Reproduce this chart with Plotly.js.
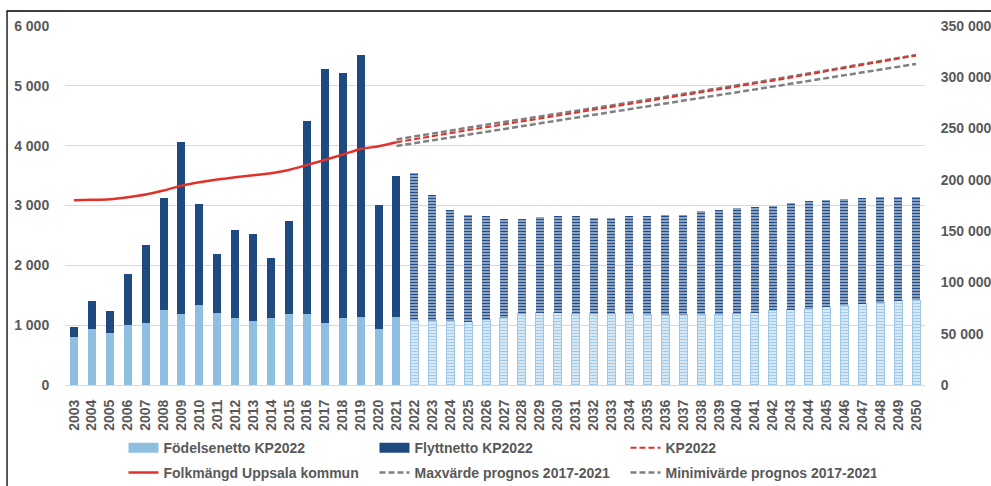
<!DOCTYPE html>
<html>
<head>
<meta charset="utf-8">
<script src="https://cdn.plot.ly/plotly-3.0.1.min.js"></script>
<style>html,body{margin:0;padding:0;background:#fff;}#chart{width:991px;height:486px;}</style>
</head>
<body>
<div id="chart"></div>
<script>
// ---- Data ----
const histYears = ["2003","2004","2005","2006","2007","2008","2009","2010","2011","2012","2013","2014","2015","2016","2017","2018","2019","2020","2021"];
const fcYears = ["2022","2023","2024","2025","2026","2027","2028","2029","2030","2031","2032","2033","2034","2035","2036","2037","2038","2039","2040","2041","2042","2043","2044","2045","2046","2047","2048","2049","2050"];
const lineFcYears = ["2021"].concat(fcYears);
const allYears = histYears.concat(fcYears);

// Födelsenetto (births surplus), historical
const birthsHist = [806, 944, 861, 1011, 1044, 1250, 1183, 1344, 1211, 1128, 1067, 1128, 1183, 1183, 1039, 1128, 1139, 944, 1139];
// Flyttnetto (net migration), historical
const migrationHist = [166, 456, 372, 839, 1289, 1878, 2884, 1678, 978, 1466, 1455, 1000, 1561, 3228, 4244, 4089, 4378, 2067, 2350];
// KP2022 forecast
const birthsFc = [1083, 1072, 1072, 1056, 1094, 1122, 1194, 1206, 1206, 1194, 1194, 1194, 1194, 1183, 1175, 1178, 1180, 1183, 1194, 1211, 1250, 1261, 1272, 1306, 1333, 1361, 1378, 1406, 1417];
const migrationFc = [2456, 2106, 1856, 1788, 1728, 1645, 1584, 1594, 1611, 1623, 1600, 1600, 1623, 1634, 1672, 1666, 1720, 1734, 1762, 1761, 1750, 1778, 1795, 1794, 1778, 1767, 1761, 1733, 1722];

// Population (right axis)
const popHist = [180000, 180500, 181200, 183100, 185700, 189600, 194400, 197700, 200300, 202500, 204500, 206400, 209700, 214500, 219400, 224600, 230100, 232700, 236600];
const popKP2022 = [236600, 239700, 242800, 245700, 248500, 251300, 254100, 256800, 259600, 262400, 265200, 268000, 270800, 273600, 276400, 279200, 282000, 284900, 287800, 290700, 293700, 296700, 299700, 302800, 305900, 309000, 312000, 315100, 318200, 321300];
const popMax = [239400, 242400, 245400, 248300, 251000, 253700, 256400, 259000, 261800, 264500, 267200, 269900, 272600, 275400, 278100, 280800, 283500, 286300, 289200, 292000, 294900, 297800, 300700, 303800, 306800, 309800, 312700, 315700, 318800, 321800];
const popMin = [233000, 235800, 238500, 241300, 244000, 246800, 249600, 252300, 255100, 257800, 260600, 263400, 266100, 268900, 271600, 274400, 277200, 279900, 282700, 285400, 288200, 291000, 293700, 296500, 299200, 302000, 304800, 307500, 310300, 313000];

const names = ["Födelsenetto KP2022", "Flyttnetto KP2022", "KP2022", "Folkmängd Uppsala kommun", "Maxvärde prognos 2017-2021", "Minimivärde prognos 2017-2021"];

// ---- Styles ----
const lightBlue = "#8fbfe0";
const darkBlue = "#1f4a80";
const red = "#e0312b";
const gray = "#808080";

const traces = [
  // historical bars
  {type:"bar", x:histYears, y:birthsHist, name:names[0], legendgroup:"b", showlegend:false,
   marker:{color:lightBlue}},
  {type:"bar", x:histYears, y:migrationHist, name:names[1], legendgroup:"m", showlegend:false,
   marker:{color:darkBlue}},
  // forecast bars (hatched)
  {type:"bar", x:fcYears, y:birthsFc, name:names[0], legendgroup:"b", showlegend:false,
   marker:{color:"#d6e8f5", line:{color:"#9cc8e6", width:1},
     pattern:{shape:"-", fgcolor:"#a3cbe7", bgcolor:"#eaf3fa", size:3, solidity:0.5}}},
  {type:"bar", x:fcYears, y:migrationFc, name:names[1], legendgroup:"m", showlegend:false,
   marker:{color:"#5a7fae", line:{color:"#ffffff", width:0},
     pattern:{shape:"-", fgcolor:"#254f8a", bgcolor:"#cfd9e6", size:3, solidity:0.6}}},
  // legend swatches for bars
  {type:"scatter", mode:"lines", x:[null], y:[null], name:names[0], legendgroup:"b", legendrank:1,
   line:{color:lightBlue, width:12}},
  {type:"scatter", mode:"lines", x:[null], y:[null], name:names[1], legendgroup:"m", legendrank:2,
   line:{color:darkBlue, width:12}},
  // lines
  {type:"scatter", mode:"lines", x:histYears, y:popHist, yaxis:"y2", name:names[3], legend:"legend2", legendrank:1,
   line:{color:red, width:2.5, shape:"spline", smoothing:0.6}},
  {type:"scatter", mode:"lines", x:lineFcYears, y:popMax, yaxis:"y2", name:names[4], legend:"legend2", legendrank:2,
   line:{color:gray, width:2.5, dash:"6px,3px"}},
  {type:"scatter", mode:"lines", x:lineFcYears, y:popMin, yaxis:"y2", name:names[5], legend:"legend2", legendrank:3,
   line:{color:gray, width:2.5, dash:"6px,3px"}},
  {type:"scatter", mode:"lines", x:lineFcYears, y:popKP2022, yaxis:"y2", name:names[2], legendrank:3,
   line:{color:red, width:2, dash:"6px,3px"}}
];

const fam = "Liberation Sans, Arial, sans-serif";
const tickFont = {family:fam, size:14, color:"#595959", weight:"bold"};
const legFont = {family:fam, size:14, color:"#595959", weight:"bold"};

const legendBase = {orientation:"h", xanchor:"left", yanchor:"top",
    entrywidth:206, entrywidthmode:"pixels", traceorder:"normal",
    font:legFont, itemwidth:30, tracegroupgap:0, bgcolor:"rgba(0,0,0,0)"};

const layout = {
  width:991, height:486,
  margin:{l:65, r:66, t:26, b:101, autoexpand:false},
  paper_bgcolor:"#ffffff", plot_bgcolor:"#ffffff",
  separators:", ",
  barmode:"stack", bargap:0.55,
  showlegend:true,
  font:{family:fam, color:"#595959"},
  xaxis:{type:"category", categoryorder:"array", categoryarray:allYears,
    tickangle:-90, tickfont:tickFont, showgrid:false, showline:true, linecolor:"#d9d9d9", linewidth:1,
    ticks:"outside", ticklen:8, tickcolor:"rgba(0,0,0,0)", automargin:false},
  yaxis:{range:[0,6000], dtick:1000, tickformat:",d", tickfont:tickFont,
    gridcolor:"#d9d9d9", gridwidth:1, zeroline:false, showline:false,
    ticks:"outside", ticklen:12, tickcolor:"rgba(0,0,0,0)", automargin:false},
  yaxis2:{overlaying:"y", side:"right", range:[0,350000], dtick:50000, tickformat:",d",
    tickfont:tickFont, showgrid:false, zeroline:false, showline:false,
    ticks:"outside", ticklen:12, tickcolor:"rgba(0,0,0,0)", automargin:false},
  legend:Object.assign({}, legendBase, {x:0.068, y:-0.131}),
  legend2:Object.assign({}, legendBase, {x:0.068, y:-0.2006}),
  shapes:[
    {type:"rect", xref:"paper", yref:"paper", x0:-0.0674, x1:2, y0:-1, y1:1.0418,
     line:{color:"#000000", width:1.3}, fillcolor:"rgba(0,0,0,0)", layer:"above"}
  ]
};

Plotly.newPlot("chart", traces, layout, {displayModeBar:false, staticPlot:true});
</script>
</body>
</html>
